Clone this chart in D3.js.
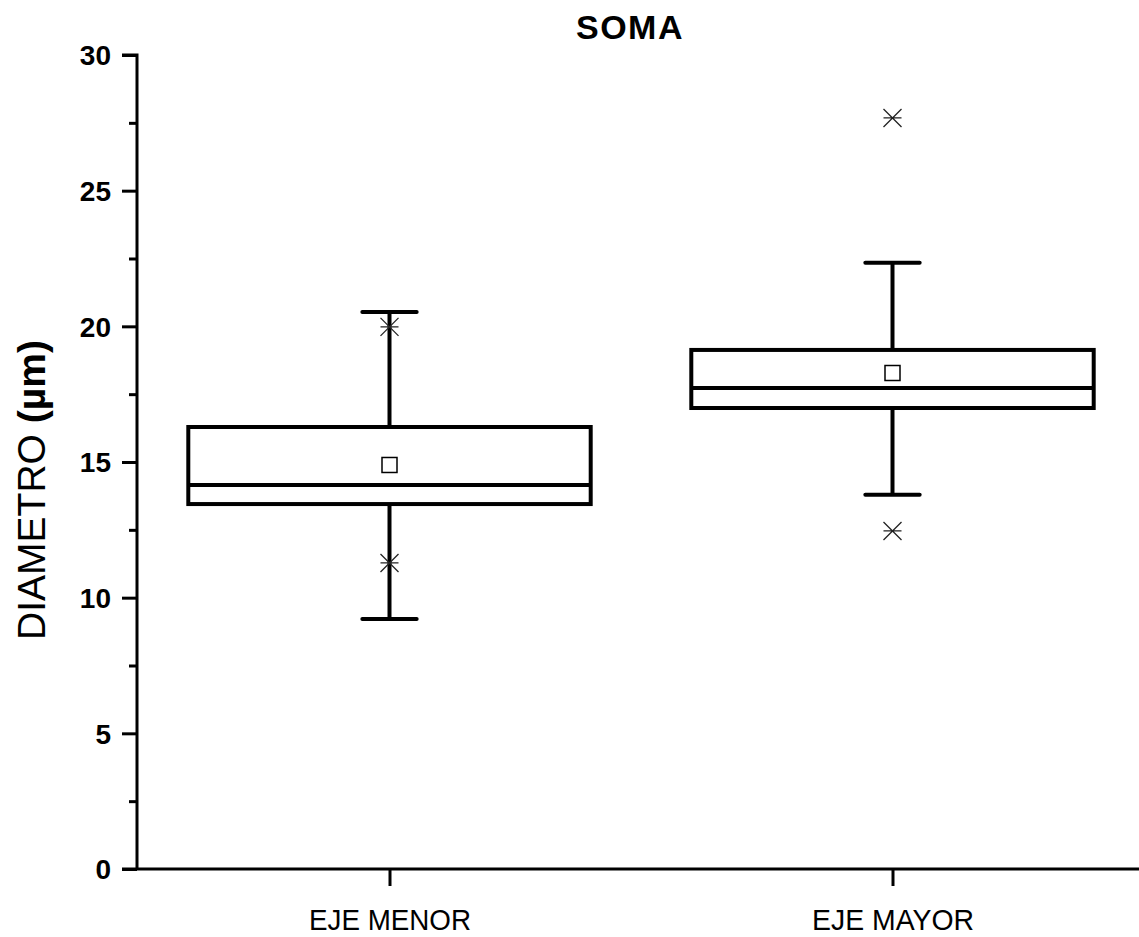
<!DOCTYPE html>
<html>
<head>
<meta charset="utf-8">
<script src="https://cdn.jsdelivr.net/npm/d3@7"></script>
<style>
  html, body { margin: 0; padding: 0; background: #fff; }
  svg { display: block; }
  text { font-family: "Liberation Sans", Arial, sans-serif; fill: #000; }
</style>
</head>
<body>
<svg id="chart" width="1139" height="937"></svg>
<script>
const categories = ["EJE MENOR", "EJE MAYOR"];
const q1Values = [13.45, 16.99];
const medianValues = [14.15, 17.73];
const q3Values = [16.29, 19.13];
const meanValues = [14.89, 18.28];
const whiskerLow = [9.21, 13.79];
const whiskerHigh = [20.53, 22.34];
const outlierLow = [11.28, 12.46];
const outlierHigh = [19.98, 27.68];
const yMajorTicks = [0, 5, 10, 15, 20, 25, 30];
const yMinorTicks = [2.5, 7.5, 12.5, 17.5, 22.5, 27.5];
const titleText = "SOMA";
const yTitleMain = "DIAMETRO ";
const yTitleUnit = "(\u00b5m)";

const svg = d3.select("#chart");
const y = d3.scaleLinear().domain([0, 30]).range([869, 55]);
const x = d3.scaleLinear().domain([0.5, 2.5]).range([138, 1144]);
const x0 = 137;

const boxes = categories.map((c, i) => ({
  cat: c, pos: i + 1,
  q1: q1Values[i], med: medianValues[i], q3: q3Values[i], mean: meanValues[i],
  lo: whiskerLow[i], hi: whiskerHigh[i],
  outs: [outlierLow[i], outlierHigh[i]]
}));

// Y axis major
const yAxis = d3.axisLeft(y).tickValues(yMajorTicks).tickSize(15).tickPadding(11).tickFormat(d3.format("d"));
const gy = svg.append("g").attr("transform", `translate(${x0},0)`).call(yAxis);
gy.select(".domain").attr("stroke", "#000").attr("stroke-width", 3).attr("d", `M-15,${y(30)}H0V${y(0)}`);
gy.selectAll(".tick line").attr("stroke", "#000").attr("stroke-width", 3);
gy.selectAll(".tick text").style("font-size", "28px").style("font-weight", "bold").attr("dy", "0.35em");

const gyMinor = svg.append("g").attr("transform", `translate(${x0},0)`)
  .call(d3.axisLeft(y).tickValues(yMinorTicks).tickSize(8).tickFormat(""));
gyMinor.select(".domain").remove();
gyMinor.selectAll(".tick line").attr("stroke", "#000").attr("stroke-width", 3);

// X axis
const xAxis = d3.axisBottom(x).tickValues([1, 2]).tickSize(17).tickPadding(23)
  .tickFormat(d => categories[d - 1]);
const gx = svg.append("g").attr("transform", `translate(0,${y(0)})`).call(xAxis);
gx.select(".domain").attr("stroke", "#000").attr("stroke-width", 3).attr("d", `M${x0 - 15},0H1139`);
gx.selectAll(".tick line").attr("stroke", "#000").attr("stroke-width", 3);
gx.selectAll(".tick text").style("font-size", "30px").attr("dy", "0.71em")
  .attr("textLength", 162).attr("lengthAdjust", "spacingAndGlyphs");

// Boxes
const g = svg.append("g");
const bw = 0.4, cw = 0.054;
boxes.forEach(b => {
  const cx = x(b.pos);
  g.append("line").attr("x1", cx).attr("x2", cx).attr("y1", y(b.hi)).attr("y2", y(b.q3))
    .attr("stroke", "#000").attr("stroke-width", 4);
  g.append("line").attr("x1", cx).attr("x2", cx).attr("y1", y(b.q1)).attr("y2", y(b.lo))
    .attr("stroke", "#000").attr("stroke-width", 4);
  [b.hi, b.lo].forEach(v => {
    g.append("line").attr("x1", x(b.pos - cw)).attr("x2", x(b.pos + cw)).attr("y1", y(v)).attr("y2", y(v))
      .attr("stroke", "#000").attr("stroke-width", 4).attr("stroke-linecap", "round");
  });
  g.append("rect").attr("x", x(b.pos - bw)).attr("y", y(b.q3))
    .attr("width", x(b.pos + bw) - x(b.pos - bw)).attr("height", y(b.q1) - y(b.q3))
    .attr("fill", "none").attr("stroke", "#000").attr("stroke-width", 4);
  g.append("line").attr("x1", x(b.pos - bw)).attr("x2", x(b.pos + bw)).attr("y1", y(b.med)).attr("y2", y(b.med))
    .attr("stroke", "#000").attr("stroke-width", 4);
  const s = 15;
  g.append("rect").attr("x", cx - s / 2).attr("y", y(b.mean) - s / 2).attr("width", s).attr("height", s)
    .attr("fill", "#fff").attr("stroke", "#000").attr("stroke-width", 1.5);
  b.outs.forEach(v => {
    const oy = y(v), r = 9;
    const p = `M${cx - r},${oy - r}L${cx + r},${oy + r}M${cx - r},${oy + r}L${cx + r},${oy - r}M${cx - r},${oy}H${cx + r}`;
    g.append("path").attr("d", p).attr("stroke", "#222").attr("stroke-width", 1.3).attr("fill", "none");
  });
});

// Title
svg.append("text").attr("x", 630).attr("y", 39).attr("text-anchor", "middle")
  .style("font-size", "34px").style("font-weight", "bold").style("letter-spacing", "1.5px").text(titleText);

// Y title
const yt = svg.append("text").attr("transform", `translate(45,${(y(0) + y(30)) / 2 + 28}) rotate(-90)`)
  .attr("text-anchor", "middle").style("font-size", "39px");
yt.append("tspan").text(yTitleMain);
yt.append("tspan").style("font-weight", "bold").text(yTitleUnit);
</script>
</body>
</html>
